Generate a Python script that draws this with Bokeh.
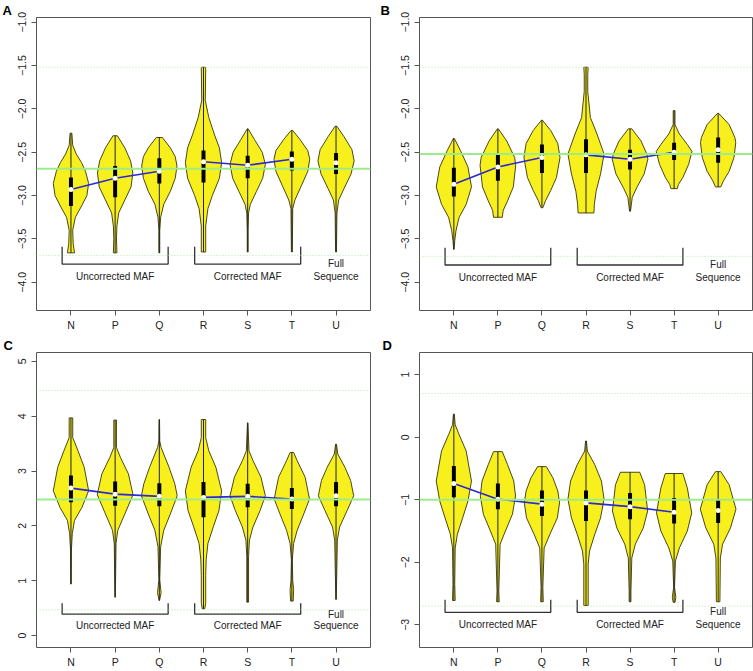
import numpy as np
from bokeh.plotting import figure
from bokeh.layouts import row, column
from bokeh.models import Range1d, FixedTicker, Span
from bokeh.core.properties import value
from bokeh.embed import file_html
from bokeh.resources import INLINE

# ---------------- data ----------------
categories = ["N", "P", "Q", "R", "S", "T", "U"]
xpos = [1, 2, 3, 4, 5, 6, 7]

# violin outlines: (value, half-width) from top to bottom
A_N = [(-2.28, 0.02), (-2.42, 0.04), (-2.52, 0.12), (-2.62, 0.24), (-2.72, 0.33), (-2.86, 0.40), (-3.00, 0.36), (-3.12, 0.24), (-3.25, 0.10), (-3.40, 0.04), (-3.55, 0.05), (-3.66, 0.08)]
A_P = [(-2.31, 0.05), (-2.45, 0.22), (-2.60, 0.35), (-2.74, 0.40), (-2.90, 0.36), (-3.05, 0.22), (-3.20, 0.08), (-3.35, 0.04), (-3.50, 0.03), (-3.66, 0.04)]
A_Q = [(-2.33, 0.07), (-2.45, 0.25), (-2.55, 0.36), (-2.66, 0.40), (-2.80, 0.36), (-2.95, 0.25), (-3.10, 0.10), (-3.25, 0.03), (-3.40, 0.01), (-3.66, 0.01)]
A_R = [(-1.52, 0.05), (-1.90, 0.04), (-2.10, 0.12), (-2.30, 0.25), (-2.45, 0.36), (-2.62, 0.41), (-2.80, 0.36), (-3.00, 0.20), (-3.15, 0.10), (-3.35, 0.05), (-3.65, 0.05)]
A_S = [(-2.23, 0.01), (-2.35, 0.15), (-2.50, 0.33), (-2.64, 0.40), (-2.80, 0.34), (-2.95, 0.20), (-3.10, 0.06), (-3.20, 0.02), (-3.40, 0.01), (-3.65, 0.01)]
A_T = [(-2.25, 0.02), (-2.35, 0.18), (-2.48, 0.36), (-2.58, 0.405), (-2.72, 0.36), (-2.88, 0.22), (-3.05, 0.07), (-3.15, 0.02), (-3.65, 0.01)]
A_U = [(-2.20, 0.02), (-2.32, 0.18), (-2.47, 0.36), (-2.60, 0.41), (-2.75, 0.34), (-2.92, 0.18), (-3.05, 0.06), (-3.20, 0.02), (-3.65, 0.01)]
A_median = [-2.93, -2.80, -2.72, -2.61, -2.65, -2.58, -2.62]
A_q3 = [-2.79, -2.66, -2.57, -2.48, -2.54, -2.49, -2.51]
A_q1 = [-3.12, -3.02, -2.86, -2.85, -2.80, -2.71, -2.75]
A_ref = [-2.69, -1.52, -3.69]

B_N = [(-2.34, 0.01), (-2.48, 0.15), (-2.67, 0.32), (-2.90, 0.40), (-3.10, 0.28), (-3.25, 0.12), (-3.40, 0.05), (-3.52, 0.02), (-3.62, 0.005)]
B_P = [(-2.23, 0.01), (-2.37, 0.20), (-2.56, 0.38), (-2.65, 0.405), (-2.90, 0.35), (-3.06, 0.22), (-3.17, 0.12), (-3.25, 0.10)]
B_Q = [(-2.13, 0.01), (-2.25, 0.20), (-2.40, 0.36), (-2.56, 0.41), (-2.79, 0.33), (-2.94, 0.20), (-3.06, 0.08), (-3.14, 0.02)]
B_R = [(-1.52, 0.05), (-1.60, 0.04), (-1.80, 0.04), (-2.10, 0.10), (-2.29, 0.25), (-2.52, 0.41), (-2.75, 0.33), (-2.95, 0.23), (-3.10, 0.19), (-3.20, 0.18)]
B_S = [(-2.23, 0.04), (-2.37, 0.25), (-2.52, 0.38), (-2.58, 0.405), (-2.75, 0.32), (-2.91, 0.15), (-3.02, 0.05), (-3.18, 0.01)]
B_T = [(-2.02, 0.02), (-2.18, 0.02), (-2.29, 0.12), (-2.41, 0.30), (-2.49, 0.405), (-2.64, 0.33), (-2.79, 0.20), (-2.87, 0.10), (-2.92, 0.07)]
B_U = [(-2.05, 0.01), (-2.18, 0.25), (-2.33, 0.38), (-2.39, 0.40), (-2.56, 0.36), (-2.72, 0.25), (-2.83, 0.12), (-2.90, 0.06)]
B_median = [-2.87, -2.67, -2.56, -2.53, -2.58, -2.50, -2.47]
B_q3 = [-2.68, -2.53, -2.41, -2.35, -2.47, -2.39, -2.33]
B_q1 = [-3.01, -2.83, -2.74, -2.74, -2.70, -2.59, -2.62]
B_ref = [-2.52, -1.52, -3.70]

C_N = [(3.97, 0.04), (3.61, 0.04), (3.37, 0.16), (3.07, 0.30), (2.64, 0.40), (2.34, 0.25), (2.10, 0.08), (1.86, 0.03), (1.56, 0.01), (0.94, 0.005)]
C_P = [(3.93, 0.03), (3.43, 0.03), (3.25, 0.12), (2.95, 0.30), (2.57, 0.405), (2.22, 0.22), (1.92, 0.06), (1.68, 0.02), (0.70, 0.005)]
C_Q = [(3.94, 0.005), (3.55, 0.01), (3.43, 0.04), (3.07, 0.22), (2.77, 0.35), (2.55, 0.405), (2.22, 0.25), (1.92, 0.10), (1.62, 0.03), (1.02, 0.01), (0.78, 0.04), (0.64, 0.005)]
C_R = [(3.94, 0.05), (3.61, 0.05), (3.37, 0.12), (3.07, 0.28), (2.64, 0.41), (2.28, 0.35), (1.98, 0.22), (1.68, 0.10), (1.38, 0.06), (1.10, 0.05), (0.60, 0.05), (0.49, 0.03)]
C_S = [(3.88, 0.005), (3.37, 0.03), (3.19, 0.12), (2.89, 0.30), (2.55, 0.40), (2.28, 0.28), (1.98, 0.12), (1.74, 0.04), (1.44, 0.02), (0.61, 0.02)]
C_T = [(3.34, 0.04), (3.19, 0.12), (2.89, 0.30), (2.49, 0.40), (2.22, 0.27), (1.92, 0.12), (1.68, 0.04), (1.38, 0.01), (1.00, 0.02), (0.84, 0.04), (0.63, 0.03)]
C_U = [(3.49, 0.01), (3.31, 0.04), (3.07, 0.20), (2.83, 0.33), (2.55, 0.40), (2.28, 0.25), (1.98, 0.08), (1.74, 0.03), (0.66, 0.005)]
C_median = [2.69, 2.58, 2.54, 2.52, 2.54, 2.49, 2.55]
C_q3 = [2.92, 2.81, 2.78, 2.80, 2.77, 2.69, 2.80]
C_q1 = [2.43, 2.37, 2.36, 2.16, 2.34, 2.31, 2.36]
C_ref = [2.48, 4.47, 0.47]

D_N = [(0.37, 0.01), (0.20, 0.03), (0.04, 0.12), (-0.22, 0.28), (-0.70, 0.40), (-1.02, 0.32), (-1.29, 0.20), (-1.55, 0.08), (-1.77, 0.03), (-2.35, 0.02), (-2.61, 0.03)]
D_P = [(-0.23, 0.10), (-0.44, 0.22), (-0.70, 0.36), (-0.94, 0.40), (-1.23, 0.33), (-1.50, 0.17), (-1.71, 0.05), (-2.46, 0.02), (-2.63, 0.03)]
D_Q = [(-0.47, 0.10), (-0.65, 0.25), (-0.86, 0.36), (-1.05, 0.40), (-1.29, 0.35), (-1.55, 0.18), (-1.77, 0.05), (-2.40, 0.02), (-2.63, 0.03)]
D_R = [(-0.06, 0.01), (-0.22, 0.03), (-0.44, 0.20), (-0.70, 0.35), (-0.99, 0.41), (-1.29, 0.33), (-1.55, 0.20), (-1.82, 0.08), (-2.03, 0.05), (-2.69, 0.05)]
D_S = [(-0.56, 0.22), (-0.76, 0.33), (-1.18, 0.40), (-1.45, 0.30), (-1.71, 0.12), (-1.93, 0.04), (-2.46, 0.02), (-2.63, 0.02)]
D_T = [(-0.58, 0.20), (-0.81, 0.30), (-1.21, 0.40), (-1.50, 0.30), (-1.77, 0.12), (-1.98, 0.03), (-2.40, 0.01), (-2.56, 0.04), (-2.64, 0.02)]
D_U = [(-0.55, 0.06), (-0.76, 0.25), (-1.15, 0.405), (-1.45, 0.28), (-1.71, 0.10), (-1.93, 0.05), (-2.63, 0.04)]
D_median = [-0.74, -0.99, -1.07, -1.05, -1.11, -1.20, -1.17]
D_q3 = [-0.46, -0.74, -0.85, -0.85, -0.89, -0.97, -0.99]
D_q1 = [-0.96, -1.15, -1.26, -1.34, -1.31, -1.38, -1.37]
D_ref = [-1.00, 0.70, -2.70]

A_yticks = [-1.0, -1.5, -2.0, -2.5, -3.0, -3.5, -4.0]
A_ylabels = ["\u22121.0", "\u22121.5", "\u22122.0", "\u22122.5", "\u22123.0", "\u22123.5", "\u22124.0"]
C_yticks = [0, 1, 2, 3, 4, 5]
C_ylabels = ["0", "1", "2", "3", "4", "5"]
D_yticks = [-3, -2, -1, 0, 1]
D_ylabels = ["\u22123", "\u22122", "\u22121", "0", "1"]

group_labels = ["Uncorrected MAF", "Corrected MAF", "Full", "Sequence"]
brackets = [(0.8, 3.2), (3.8, 6.2)]

FONT = "Liberation Sans"
YELLOW = "#f8f01c"
OUTLINE = "#4a4818"
XR = (0.22, 7.78)


def panel(letter, shapes, med, q1, q3, ref, yr, yticks, ylabels,
          br_top, br_bot, txt_y, full_y, W, H, bl, br, bt, bb, lab_dx):
    p = figure(width=W, height=H, x_range=Range1d(*XR), y_range=Range1d(*yr),
               output_backend="svg", toolbar_location=None, title=letter,
               min_border_left=bl, min_border_right=br, min_border_top=bt, min_border_bottom=bb)
    p.title.align = "left"
    p.title.offset = lab_dx
    p.title.standoff = 0
    p.title.text_font = FONT
    p.title.text_font_style = "bold"
    p.title.text_font_size = "13px"
    p.title.text_color = "black"
    p.title.text_line_height = 0.8

    p.xgrid.visible = False
    p.ygrid.visible = False
    p.outline_line_color = "#555555"
    p.outline_line_width = 1
    p.background_fill_color = "white"

    # reference lines
    p.add_layout(Span(location=ref[0], dimension="width", line_color="#9cec8c", line_width=2))
    for loc in ref[1:]:
        p.add_layout(Span(location=loc, dimension="width", line_color="#b6e6a6",
                          line_width=1, line_dash="1 2"))

    xs, ys = [], []
    for c, kn in zip(xpos, shapes):
        vy = [k[0] for k in kn]
        hw = [k[1] for k in kn]
        xs.append([c - w for w in hw] + [c + w for w in hw[::-1]])
        ys.append(vy + vy[::-1])
    p.patches(xs, ys, fill_color=YELLOW, line_color=OUTLINE, line_width=1)

    tops = [kn[0][0] for kn in shapes]
    bots = [kn[-1][0] for kn in shapes]
    p.segment(x0=xpos, y0=bots, x1=xpos, y1=tops, line_color="#222222", line_width=1)
    p.vbar(x=xpos, width=0.09, top=q3, bottom=q1, fill_color="black", line_color=None)
    p.line(xpos[:3], med[:3], line_color="#2a2ad0", line_width=1.6)
    p.line(xpos[3:6], med[3:6], line_color="#2a2ad0", line_width=1.6)
    p.scatter(xpos, med, size=5, marker="circle", fill_color="white", line_color=None)

    # brackets
    for (a, b) in brackets:
        p.line([a, a, b, b], [br_top, br_bot, br_bot, br_top], line_color="#333333", line_width=1.3)
    p.text(x=[2, 5, 7, 7], y=[txt_y, txt_y, full_y, txt_y], text=group_labels,
           text_align="center", text_baseline="middle", text_font=value(FONT),
           text_font_size="10px", text_color="#222222")

    # axes
    p.xaxis.ticker = FixedTicker(ticks=xpos)
    p.xaxis.major_label_overrides = {x: c for x, c in zip(xpos, categories)}
    p.yaxis.ticker = FixedTicker(ticks=yticks)
    p.yaxis.major_label_overrides = {t: l for t, l in zip(yticks, ylabels)}
    p.yaxis.major_label_orientation = "vertical"
    for ax in (p.xaxis, p.yaxis):
        ax.axis_line_color = None
        ax.major_tick_line_color = "#555555"
        ax.major_tick_out = 5
        ax.major_tick_in = 0
        ax.minor_tick_line_color = None
        ax.major_label_text_font = FONT
        ax.major_label_text_font_size = "10.5px"
        ax.major_label_text_color = "#222222"
    p.xaxis.major_label_standoff = 3
    p.yaxis.major_label_standoff = 5
    return p


WL, WR = 376, 377
HT, HB = 335, 336

pA = panel("A", [A_N, A_P, A_Q, A_R, A_S, A_T, A_U], A_median, A_q1, A_q3, A_ref,
           (-4.325, -0.946), A_yticks, A_ylabels, -3.59, -3.79, -3.93, -3.78,
           WL, HT, 36, 6, 11, 25, -34)
pB = panel("B", [B_N, B_P, B_Q, B_R, B_S, B_T, B_U], B_median, B_q1, B_q3, B_ref,
           (-4.325, -0.946), A_yticks, A_ylabels, -3.60, -3.80, -3.94, -3.79,
           WR, HT, 43, 1, 11, 25, -39)
pC = panel("C", [C_N, C_P, C_Q, C_R, C_S, C_T, C_U], C_median, C_q1, C_q3, C_ref,
           (-0.217, 5.163), C_yticks, C_ylabels, 0.59, 0.39, 0.18, 0.39,
           WL, HB, 36, 6, 15, 23, -33)
pD = panel("D", [D_N, D_P, D_Q, D_R, D_S, D_T, D_U], D_median, D_q1, D_q3, D_ref,
           (-3.362, 1.355), D_yticks, D_ylabels, -2.60, -2.80, -3.00, -2.79,
           WR, HB, 43, 1, 14, 24, -37)

layout = column(row(pA, pB), row(pC, pD))
open("out.html", "w").write(file_html(layout, INLINE))
